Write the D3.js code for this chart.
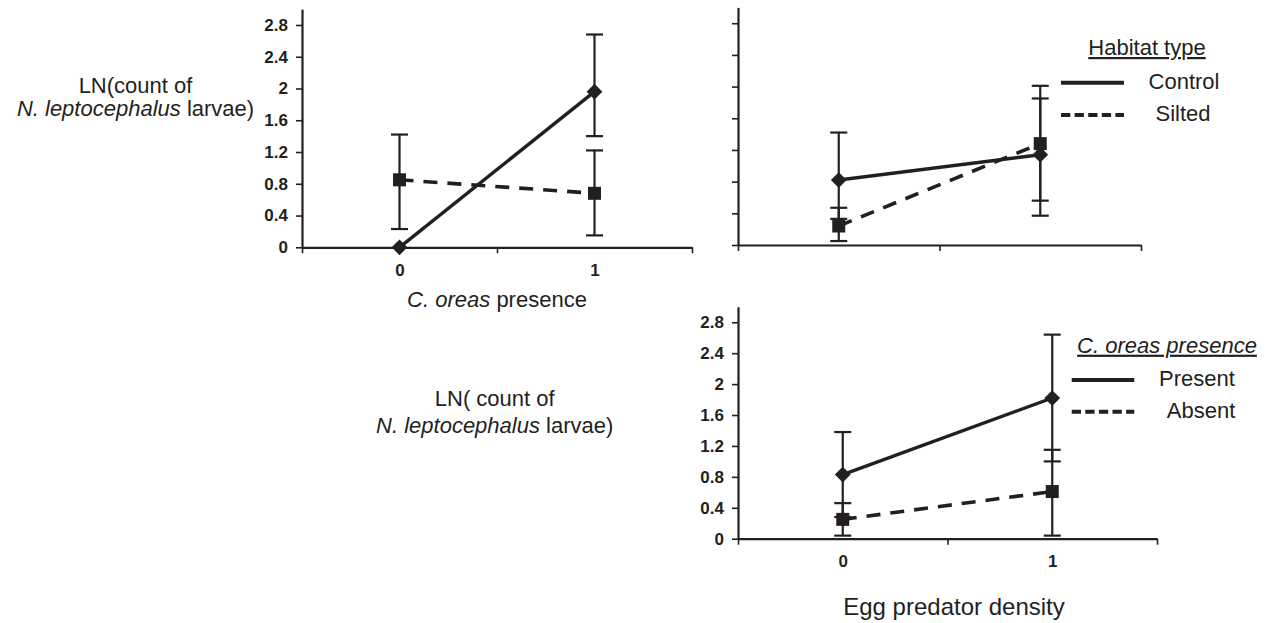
<!DOCTYPE html>
<html>
<head>
<meta charset="utf-8">
<script src="https://cdn.jsdelivr.net/npm/d3@7"></script>
<style>
  html, body { margin: 0; padding: 0; background: #fff; }
  svg { display: block; }
  text { font-family: "Liberation Sans", Arial, sans-serif; fill: #231f20; }
  .tick text { font-size: 17px; font-weight: bold; }
</style>
</head>
<body>
<svg id="chart" width="1271" height="623"></svg>
<script>
// ---------- DATA ----------
const categories = ["0", "1"];
const yTicks = [0, 0.4, 0.8, 1.2, 1.6, 2, 2.4, 2.8];

// Panel A: C. oreas presence x habitat type
const aControl   = [0, 1.96];
const aControlHi = [0, 2.68];
const aControlLo = [0, 1.40];
const aSilted    = [0.85, 0.68];
const aSiltedHi  = [1.42, 1.22];
const aSiltedLo  = [0.23, 0.15];

// Panel B: egg predator density x habitat type
const bControl   = [0.82, 1.14];
const bControlHi = [1.42, 1.85];
const bControlLo = [0.33, 0.37];
const bSilted    = [0.24, 1.28];
const bSiltedHi  = [0.47, 2.01];
const bSiltedLo  = [0.05, 0.56];

// Panel C: egg predator density x C. oreas presence
const cPresent   = [0.83, 1.82];
const cPresentHi = [1.38, 2.64];
const cPresentLo = [0.28, 1.00];
const cAbsent    = [0.25, 0.61];
const cAbsentHi  = [0.46, 1.15];
const cAbsentLo  = [0.04, 0.04];

const habitatLegend = ["Control", "Silted"];
const presenceLegend = ["Present", "Absent"];

// ---------- DRAWING ----------
const ink = "#231f20";
const svg = d3.select("#chart");

function drawPanel(cfg, series) {
  const x = d3.scaleLinear().domain([-0.5, 1.5]).range(cfg.xr);
  const y = d3.scaleLinear().domain([0, 3]).range(cfg.yr);
  const g = svg.append("g");

  // y axis
  const ya = g.append("g").attr("transform", `translate(${cfg.xr[0]},0)`)
    .call(d3.axisLeft(y).tickValues(yTicks).tickSize(6).tickSizeOuter(0).tickPadding(8)
      .tickFormat(cfg.labels ? (d => String(d)) : ""));
  ya.attr("font-size", null).attr("font-family", null);
  ya.select(".domain").attr("stroke", ink).attr("stroke-width", 2.2);
  ya.selectAll(".tick line").attr("stroke", ink).attr("stroke-width", 1.6);
  ya.selectAll("text").attr("fill", ink);

  // x axis with boundary ticks
  const xa = g.append("g").attr("transform", `translate(0,${cfg.yr[0]})`)
    .call(d3.axisBottom(x).tickValues([-0.5, 0.5, 1.5]).tickSize(6).tickSizeOuter(0).tickFormat(""));
  xa.select(".domain").attr("stroke", ink).attr("stroke-width", 2.2);
  xa.selectAll(".tick line").attr("stroke", ink).attr("stroke-width", 1.6);

  if (cfg.labels) {
    const xl = g.append("g").attr("transform", `translate(0,${cfg.yr[0]})`)
      .call(d3.axisBottom(x).tickValues([0, 1]).tickSize(0).tickPadding(cfg.xPad)
        .tickFormat(d => categories[d]));
    xl.attr("font-size", null).attr("font-family", null);
    xl.select(".domain").remove();
    xl.selectAll("text").attr("fill", ink);
  }

  const line = d3.line().x((d, i) => x(i)).y(d => y(d));

  series.forEach(s => {
    g.append("path").datum(s.v).attr("d", line)
      .attr("fill", "none").attr("stroke", ink).attr("stroke-width", s.dashed ? 3.6 : 3.4)
      .attr("stroke-dasharray", s.dashed ? "14,10" : null);
  });

  series.forEach(s => {
    s.v.forEach((v, i) => {
      const hi = s.hi[i], lo = s.lo[i];
      if (hi === lo) return;
      const cx = x(i);
      g.append("line").attr("x1", cx).attr("x2", cx).attr("y1", y(lo)).attr("y2", y(hi))
        .attr("stroke", ink).attr("stroke-width", 2.2);
      [hi, lo].forEach(e => {
        g.append("line").attr("x1", cx - 8.5).attr("x2", cx + 8.5).attr("y1", y(e)).attr("y2", y(e))
          .attr("stroke", ink).attr("stroke-width", 2.2);
      });
    });
  });

  series.forEach(s => {
    s.v.forEach((v, i) => {
      const sym = s.marker === "diamond"
        ? d3.symbol(d3.symbolSquare, 124)
        : d3.symbol(d3.symbolSquare, 169);
      g.append("path").attr("d", sym())
        .attr("transform", `translate(${x(i)},${y(v)})` + (s.marker === "diamond" ? " rotate(45)" : ""))
        .attr("fill", ink);
    });
  });
}

drawPanel({ xr: [302, 692], yr: [247.3, 9.1], labels: true, xPad: 17 }, [
  { v: aControl, hi: aControlHi, lo: aControlLo, dashed: false, marker: "diamond" },
  { v: aSilted,  hi: aSiltedHi,  lo: aSiltedLo,  dashed: true,  marker: "square" }
]);
drawPanel({ xr: [738, 1141], yr: [245, 7.4], labels: false }, [
  { v: bControl, hi: bControlHi, lo: bControlLo, dashed: false, marker: "diamond" },
  { v: bSilted,  hi: bSiltedHi,  lo: bSiltedLo,  dashed: true,  marker: "square" }
]);
drawPanel({ xr: [738, 1157], yr: [538.7, 306.8], labels: true, xPad: 16 }, [
  { v: cPresent, hi: cPresentHi, lo: cPresentLo, dashed: false, marker: "diamond" },
  { v: cAbsent,  hi: cAbsentHi,  lo: cAbsentLo,  dashed: true,  marker: "square" }
]);

// ---------- TEXT ----------
function addText(x, y, parts, opts = {}) {
  const t = svg.append("text").attr("x", x).attr("y", y)
    .attr("text-anchor", opts.anchor || "middle")
    .attr("font-size", opts.size || 22);
  if (opts.underline) t.attr("text-decoration", "underline");
  parts.forEach(p => {
    t.append("tspan").text(p.t).attr("font-style", p.i ? "italic" : "normal");
  });
  return t;
}

// Y titles
addText(135.5, 93, [{ t: "LN(count of" }]);
addText(135.5, 116, [{ t: "N. leptocephalus", i: true }, { t: " larvae)" }]);
addText(494.7, 406, [{ t: "LN( count of" }]);
addText(494.7, 433, [{ t: "N. leptocephalus", i: true }, { t: " larvae)" }]);

// X titles
addText(497, 306.7, [{ t: "C. oreas", i: true }, { t: " presence" }]);
addText(954, 615, [{ t: "Egg predator density" }], { size: 24 });

// Legends
function legend(titleParts, tx, ty, lx0, lx1, ys, labels, labelX) {
  addText(tx, ty, titleParts, { underline: true });
  ys.forEach((yy, k) => {
    svg.append("line").attr("x1", lx0).attr("x2", lx1).attr("y1", yy).attr("y2", yy)
      .attr("stroke", ink).attr("stroke-width", 4)
      .attr("stroke-dasharray", k === 1 ? "9.3,4.3" : null);
    addText(labelX[k], yy + 5.8, [{ t: labels[k] }]);
  });
}
legend([{ t: "Habitat type" }], 1147, 55, 1061, 1124, [82.7, 115], habitatLegend, [1184, 1183]);
legend([{ t: "C. oreas presence", i: true }], 1167, 352.7, 1071.7, 1134.3, [380, 411.7], presenceLegend, [1197, 1201]);
</script>
</body>
</html>
